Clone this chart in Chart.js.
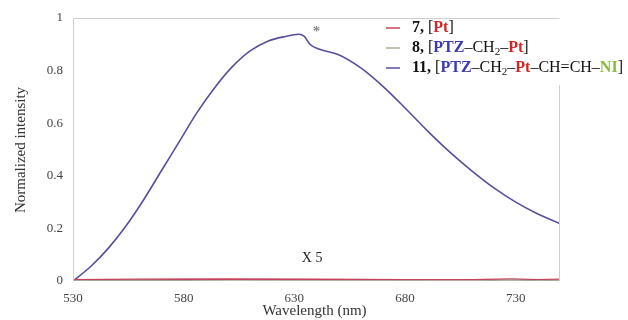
<!DOCTYPE html>
<html>
<head>
<meta charset="utf-8">
<script src="https://cdn.jsdelivr.net/npm/chart.js@4"></script>
<style>
  html, body { margin: 0; padding: 0; background: #fff; }
  #wrap { width: 628px; height: 320px; }
</style>
</head>
<body>
<div id="wrap"><canvas id="spec" width="628" height="320"></canvas></div>
<script>
// Emission spectra, normalized
const wavelength11 = [530, 538, 546, 554, 562, 570, 578, 586, 594, 602, 610, 618, 626, 632, 634.5, 637, 641, 650, 660, 670, 680, 690, 700, 710, 720, 730, 740, 750];
const intensity11  = [0, 0.055, 0.125, 0.21, 0.31, 0.42, 0.53, 0.64, 0.735, 0.815, 0.875, 0.912, 0.93, 0.938, 0.93, 0.9, 0.882, 0.86, 0.81, 0.74, 0.658, 0.572, 0.492, 0.42, 0.355, 0.3, 0.255, 0.218];

// compounds 7 and 8 (x5), flat near baseline
const wavelengthLow = [530, 560, 600, 640, 680, 710, 728, 740, 750];
const intensity7    = [0.005, 0.006, 0.007, 0.006, 0.005, 0.005, 0.007, 0.005, 0.006];
const intensity8    = [0.001, 0.002, 0.001, 0.001, 0.001, 0.0, 0.004, 0.001, 0.003];

const xTicks = [530, 580, 630, 680, 730];
const yTicks = [0, 0.2, 0.4, 0.6, 0.8, 1];
const yTickLabels = ['0', '0.2', '0.4', '0.6', '0.8', '1'];

const COL7 = '#c8405a', COL8 = '#a5ab9a', COL11 = '#5b4c9e';
const SERIF = '"Liberation Serif", "DejaVu Serif", serif';

const pts = (xs, ys) => xs.map((x, i) => ({ x, y: ys[i] }));

// legend entries as coloured text runs
const legendRows = [
  { color: COL7, runs: [['7,', 'b', '#111'], [' [', '', '#111'], ['Pt', 'b', '#d02828'], [']', '', '#111']] },
  { color: COL8, runs: [['8,', 'b', '#111'], [' [', '', '#111'], ['PTZ', 'b', '#3b3bb0'], ['–CH', '', '#111'], ['2', 's', '#111'], ['–', '', '#111'], ['Pt', 'b', '#d02828'], [']', '', '#111']] },
  { color: COL11, runs: [['11,', 'b', '#111'], [' [', '', '#111'], ['PTZ', 'b', '#3b3bb0'], ['–CH', '', '#111'], ['2', 's', '#111'], ['–', '', '#111'], ['Pt', 'b', '#d02828'], ['–CH=CH–', '', '#111'], ['NI', 'b', '#8cba3c'], [']', '', '#111']] },
];

const decor = {
  id: 'decor',
  afterDraw(chart) {
    const c = chart.ctx, a = chart.chartArea;
    const xs = chart.scales.x, ys = chart.scales.y;
    c.save();

    // frame: left, top, right (right side starts below the legend)
    c.strokeStyle = '#cfcfcf';
    c.lineWidth = 1;
    c.beginPath();
    c.moveTo(a.left + 0.5, a.bottom); c.lineTo(a.left + 0.5, a.top + 0.5);
    c.lineTo(a.right - 0.5, a.top + 0.5);
    c.moveTo(a.right - 0.5, 85); c.lineTo(a.right - 0.5, a.bottom);
    c.stroke();

    // axis titles
    c.fillStyle = '#333';
    c.font = '15px ' + SERIF;
    c.textAlign = 'center';
    c.textBaseline = 'middle';
    c.fillText('Wavelength (nm)', (a.left + a.right) / 2 - 2, 311);
    c.save();
    c.translate(21, 150);
    c.rotate(-Math.PI / 2);
    c.fillText('Normalized intensity', 0, 0);
    c.restore();

    // scale note and marker above the kink
    c.font = '14px ' + SERIF;
    c.fillStyle = '#222';
    c.fillText('X 5', xs.getPixelForValue(638), ys.getPixelForValue(0.087));
    c.fillStyle = '#888';
    c.font = 'bold 15px ' + SERIF;
    c.fillText('*', xs.getPixelForValue(640), ys.getPixelForValue(0.945));

    // legend
    c.textAlign = 'left';
    legendRows.forEach((row, i) => {
      const y = 28 + i * 20;
      c.strokeStyle = row.color;
      c.lineWidth = 1.5;
      c.beginPath(); c.moveTo(386, y); c.lineTo(400, y); c.stroke();
      let x = 412;
      row.runs.forEach(([t, st, col]) => {
        let dy = 0;
        if (st === 'b') c.font = 'bold 16px ' + SERIF;
        else if (st === 's') { c.font = '11px ' + SERIF; dy = 4; }
        else c.font = '16px ' + SERIF;
        c.fillStyle = col;
        c.fillText(t, x, y + dy);
        x += c.measureText(t).width;
      });
    });
    c.restore();
  }
};

new Chart(document.getElementById('spec'), {
  type: 'line',
  data: {
    datasets: [
      { data: pts(wavelengthLow, intensity8), borderColor: COL8, borderWidth: 1.2, pointRadius: 0 },
      { data: pts(wavelengthLow, intensity7), borderColor: COL7, borderWidth: 1.6, pointRadius: 0 },
      { data: pts(wavelength11, intensity11), borderColor: COL11, borderWidth: 1.6, pointRadius: 0, cubicInterpolationMode: 'monotone' },
    ]
  },
  options: {
    responsive: false,
    animation: false,
    layout: { padding: { top: 18, right: 68, left: 0, bottom: 0 } },
    plugins: { legend: { display: false }, tooltip: { enabled: false } },
    scales: {
      x: {
        type: 'linear', min: 530, max: 750,
        afterBuildTicks: s => { s.ticks = xTicks.map(v => ({ value: v })); },
        afterFit: s => { s.height = 39; },
        grid: { display: false, drawTicks: false },
        border: { display: false },
        ticks: { padding: 10, color: '#444', font: { family: SERIF, size: 13 } }
      },
      y: {
        min: 0, max: 1,
        afterBuildTicks: s => { s.ticks = yTicks.map(v => ({ value: v })); },
        afterFit: s => { s.width = 73; },
        grid: { display: false, drawTicks: false },
        border: { display: false },
        ticks: {
          padding: 10, color: '#444', font: { family: SERIF, size: 13 },
          callback: (v, i) => yTickLabels[i]
        }
      }
    }
  },
  plugins: [decor]
});
</script>
</body>
</html>
